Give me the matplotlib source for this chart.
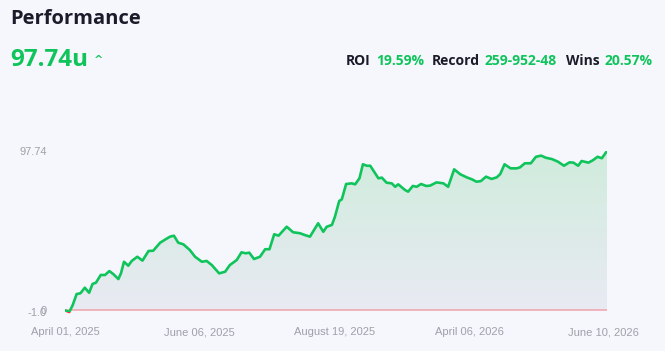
import numpy as np
import matplotlib
matplotlib.use('Agg')
import matplotlib.pyplot as plt
from matplotlib.patches import Polygon, Rectangle

# cumulative units won vs. bet number
bet_no = [0, 10, 18, 27, 36, 46, 56, 64, 72, 83, 93, 103, 112, 124, 130, 137, 147, 155,
          168, 180, 194, 205, 221, 235, 244, 253, 263, 275, 290, 302, 318, 329, 341,
          358, 372, 383, 399, 410, 420, 428, 439, 453, 465, 475, 486, 496, 515, 530,
          546, 557, 569, 588, 600, 608, 620, 627, 637, 643, 653, 666, 674, 684, 692,
          701, 709, 728, 736, 747, 759, 767, 774, 790, 797, 808, 817, 827, 839, 848,
          863, 879, 890, 904, 918, 933, 945, 956, 966, 978, 991, 1003, 1011, 1021,
          1035, 1049, 1057, 1068, 1082, 1094, 1106, 1117, 1131, 1145, 1159, 1172,
          1181, 1192, 1200, 1216, 1227, 1237, 1247, 1259]
units = [0.0, -1.0, 3.3, 10.0, 10.5, 13.9, 10.8, 16.2, 17.0, 21.7, 21.7, 24.1, 22.3,
         19.2, 22.7, 29.8, 27.4, 30.3, 32.9, 30.5, 36.4, 36.6, 41.5, 43.8, 45.2, 45.8,
         41.5, 40.5, 37.0, 32.9, 29.8, 30.3, 27.8, 22.7, 23.7, 27.8, 30.9, 35.6, 35.0,
         35.4, 31.5, 32.9, 37.5, 37.5, 46.7, 45.8, 51.3, 47.9, 47.3, 46.2, 45.2, 53.4,
         48.2, 51.3, 52.4, 57.4, 67.1, 68.1, 77.5, 77.9, 77.3, 81.0, 89.6, 88.7, 88.7,
         81.0, 81.4, 78.3, 77.9, 75.8, 77.3, 73.8, 72.8, 76.3, 75.8, 77.5, 76.3, 76.5,
         78.5, 77.9, 75.8, 86.5, 83.5, 81.6, 80.4, 78.9, 79.3, 82.0, 80.6, 81.6, 83.6,
         89.6, 87.1, 87.1, 87.7, 90.2, 90.2, 94.2, 94.9, 93.6, 92.8, 91.2, 88.7, 90.8,
         90.6, 88.7, 91.6, 90.6, 92.2, 94.2, 93.3, 97.74]

date_ticks = [0, 313, 626, 939, 1250]
date_labels = ['April 01, 2025', 'June 06, 2025', 'August 19, 2025',
               'April 06, 2026', 'June 10, 2026']

total = '97.74u'
stats = [('ROI', '19.59%'), ('Record', '259-952-48'), ('Wins', '20.57%')]

BG = '#f6f7fc'
GREEN = '#10c45c'
DARK = '#1b1b2a'
GREY = '#a0a0aa'

x = np.array(bet_no)
y = np.array(units)
ymin, ymax = min(units), units[-1]

fig = plt.figure(figsize=(6.65, 3.51), dpi=100, facecolor=BG)
ax = fig.add_axes([65 / 665, 1 - 312 / 351, 542 / 665, 161 / 351])
ax.set_facecolor(BG)
ax.set_xlim(x[0], x[-1])
ax.set_ylim(ymin, ymax)

# gradient fill under the curve
poly = Polygon(np.column_stack([np.r_[x, x[-1], x[0]], np.r_[y, 0, 0]]),
               closed=True, facecolor='none', edgecolor='none')
ax.add_patch(poly)
c_top = np.array([0.815, 0.925, 0.865])
c_bot = np.array([0.912, 0.918, 0.952])
t = np.linspace(1, 0, 256)[:, None]
grad = (c_top * t + c_bot * (1 - t))[:, None, :].repeat(2, axis=1)
im = ax.imshow(grad, extent=[x[0], x[-1], 0, ymax], aspect='auto',
               origin='upper', zorder=1)
im.set_clip_path(poly)

ax.axhline(0, color='#f0a3ab', lw=1.1, zorder=2)
ax.plot(x, y, color=GREEN, lw=1.9, zorder=3, solid_capstyle='round',
        solid_joinstyle='round')
neg = ax.plot(x, y, color='#f0353f', lw=1.9, zorder=4, solid_capstyle='round')[0]
neg.set_clip_path(Rectangle((x[0], ymin - 5), x[-1], 5, transform=ax.transData))

for s in ax.spines.values():
    s.set_visible(False)
ax.tick_params(length=0)
ax.set_yticks([ymin, 0, ymax])
ax.set_yticklabels(['-1.0', '0', '97.74'], color=GREY, fontsize=8,
                   family='Liberation Sans')
ax.tick_params(axis='y', pad=13)
ax.set_xticks(date_ticks)
ax.set_xticklabels(date_labels, color=GREY, fontsize=8, family='Liberation Sans')
ax.tick_params(axis='x', pad=11)

# header
fig.text(10 / 665, 1 - 19 / 351, 'Performance', fontsize=14.5, fontweight='bold',
         color=DARK, family='Open Sans', va='center', ha='left')
fig.text(10 / 665, 1 - 60 / 351, total, fontsize=17.5, fontweight='bold',
         color=GREEN, family='Open Sans', va='center', ha='left')
fig.text(94 / 665, 1 - 60 / 351, '^', fontsize=8, fontweight='bold',
         color=GREEN, family='DejaVu Sans', va='center', ha='left')

xs = [346, 432, 566]
for (lab, val), x0 in zip(stats, xs):
    tl = fig.text(x0 / 665, 1 - 61 / 351, lab, fontsize=10, fontweight='bold',
                  color=DARK, family='Open Sans', va='center', ha='left')
    fig.canvas.draw()
    bb = tl.get_window_extent()
    fig.text((bb.x1 + 5) / 665, 1 - 61 / 351, val, fontsize=10, fontweight='bold',
             color=GREEN, family='Open Sans', va='center', ha='left')

fig.savefig('out.png', dpi=100, facecolor=BG)
